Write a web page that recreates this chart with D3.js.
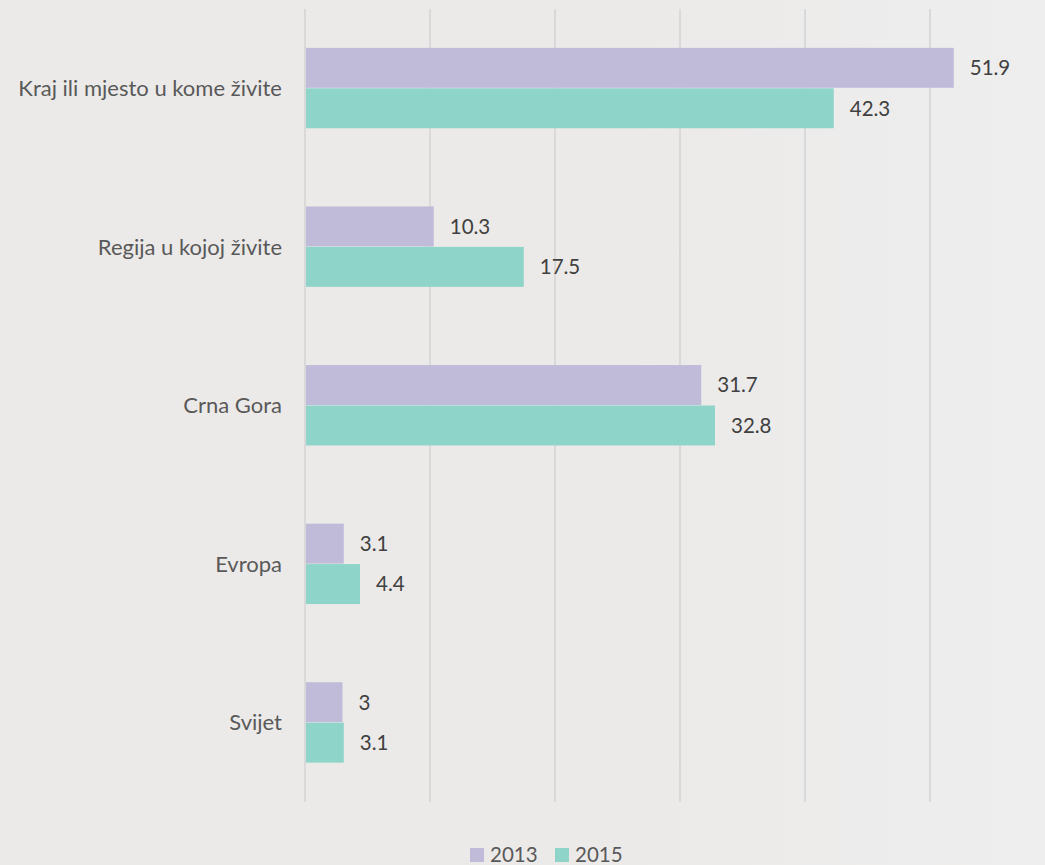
<!DOCTYPE html>
<html><head><meta charset="utf-8">
<script src="https://cdn.jsdelivr.net/npm/d3@7"></script>
<style>
body{margin:0;background:#ebeae8;}
svg{display:block;}
</style></head>
<body>
<svg id="c" width="1045" height="865"></svg>
<script>
const categories = ["Kraj ili mjesto u kome živite","Regija u kojoj živite","Crna Gora","Evropa","Svijet"];
const series = ["2013","2015"];
const values2013 = [51.9,10.3,31.7,3.1,3];
const values2015 = [42.3,17.5,32.8,4.4,3.1];
const gridTicks = [0,10,20,30,40,50];
const colors = ["#bfbbd9","#8ed4c8"];

const svg = d3.select("#c");
const defs = svg.append("defs");
const g0 = defs.append("linearGradient").attr("id","bg").attr("x1","0").attr("x2","1").attr("y1","0").attr("y2","0");
g0.append("stop").attr("offset","0").attr("stop-color","#ebeae8");
g0.append("stop").attr("offset","0.6").attr("stop-color","#ebeae9");
g0.append("stop").attr("offset","1").attr("stop-color","#efeeee");
svg.append("rect").attr("width",1045).attr("height",865).attr("fill","url(#bg)");

const font = "Lato, 'Open Sans', sans-serif";
const mLeft = 305, mTop = 9, mBottom = 802;
const x = d3.scaleLinear().domain([0,50]).range([mLeft,930]);
const y = d3.scaleBand().domain(categories).range([mTop,mBottom]).paddingInner(0.49).paddingOuter(0.245);
const y1 = d3.scaleBand().domain(series).range([0,y.bandwidth()]);

svg.append("g").selectAll("line").data(gridTicks).join("line")
  .attr("x1",d=>x(d)).attr("x2",d=>x(d)).attr("y1",mTop).attr("y2",mBottom)
  .attr("stroke","#d9d9d9").attr("stroke-width",2);

const rows = categories.map((c,i)=>({c, v:[values2013[i],values2015[i]]}));
const grp = svg.append("g").selectAll("g").data(rows).join("g")
  .attr("transform",d=>`translate(0,${y(d.c)})`);
grp.selectAll("rect").data(d=>d.v.map((v,j)=>({s:series[j],v,j}))).join("rect")
  .attr("x",x(0)+1).attr("y",d=>y1(d.s)).attr("height",y1.bandwidth()-0.5)
  .attr("width",d=>x(d.v)-x(0)-1).attr("fill",d=>colors[d.j]);
grp.selectAll("text").data(d=>d.v.map((v,j)=>({s:series[j],v,j}))).join("text")
  .attr("x",d=>x(d.v)+16).attr("y",d=>y1(d.s)+y1.bandwidth()/2).attr("dy","0.35em")
  .attr("font-family",font).attr("font-size",20.5).attr("fill","#404040")
  .text(d=>d.v);

svg.append("g").selectAll("text").data(categories).join("text")
  .attr("x",282).attr("y",d=>y(d)+y.bandwidth()/2).attr("dy","0.35em").attr("text-anchor","end")
  .attr("font-family",font).attr("font-size",22).attr("fill","#595959")
  .text(d=>d);

const leg = svg.append("g").attr("transform","translate(470,848)");
const li = leg.selectAll("g").data(series).join("g").attr("transform",(d,i)=>`translate(${i*85},0)`);
li.append("rect").attr("width",14).attr("height",14).attr("fill",(d,i)=>colors[i]);
li.append("text").attr("x",20).attr("y",7).attr("dy","0.35em")
  .attr("font-family",font).attr("font-size",20.5).attr("fill","#595959").text(d=>d);
</script>
</body></html>
